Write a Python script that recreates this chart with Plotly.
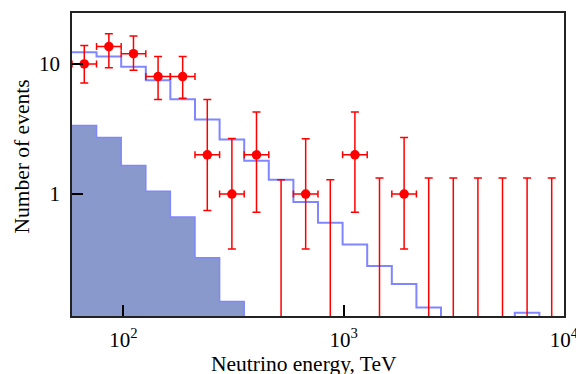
import numpy as np
import plotly.graph_objects as go

# Bin edges (TeV), 20 log-spaced bins
bin_edges = [58.5, 75.6, 97.8, 126.5, 163.5, 211.5, 273.5, 353.7, 457.3, 591.4,
             764.7, 989.0, 1279.0, 1654.0, 2139.0, 2766.0, 3576.0, 4625.0, 5980.0,
             7733.0, 10000.0]

# Expected total (signal + background) per bin; tiny values are below the axis
model_counts = [12.3, 11.4, 9.5, 7.5, 5.35, 3.74, 2.63, 1.80, 1.29, 0.868,
                0.60, 0.409, 0.280, 0.203, 0.134, 0.001, 0.001, 0.001, 0.122, 0.001]

# Background expectation per bin (first 7 bins, rest negligible)
bg_counts = [3.36, 2.72, 1.66, 1.05, 0.666, 0.323, 0.149]

# Observed events: bin index, value, upper and lower error bounds
obs_bin = [0, 1, 2, 3, 4, 5, 6, 7, 9, 11, 13]
obs_val = [10, 13.6, 12.0, 8.0, 8.0, 2.0, 1.0, 2.0, 1.0, 2.0, 1.0]
obs_hi = [13.9, 17.1, 16.4, 11.4, 11.4, 5.32, 2.67, 4.28, 2.66, 4.28, 2.72]
obs_lo = [7.15, 9.37, 8.93, 5.32, 5.45, 0.746, 0.377, 0.724, 0.377, 0.724, 0.377]

# Upper limits for empty bins
ul_bin = [8, 10, 12, 14, 15, 16, 17, 18, 19]
ul_val = [1.29, 1.29, 1.33, 1.33, 1.33, 1.33, 1.33, 1.33, 1.33]

x_tick_vals = [100, 1000, 10000]
x_tick_text = ["10<sup>2</sup>", "10<sup>3</sup>", "10<sup>4</sup>"]
y_tick_vals = [1, 10]
y_tick_text = ["1", "10"]

edges = np.array(bin_edges)
centers = np.sqrt(edges[:-1] * edges[1:])

FONT = "Liberation Serif"
RED = "#ff0000"
BLUE_LINE = "#7f86ff"
BLUE_FILL = "#8a99cc"
FLOOR = 0.001

fig = go.Figure()

# Background filled histogram
nb = len(bg_counts)
bx = list(edges[:nb + 1]) + [edges[nb], edges[0]]
by = list(bg_counts) + [FLOOR, FLOOR, FLOOR]
fig.add_trace(go.Scatter(
    x=bx, y=by, mode="lines", line=dict(shape="hv", color=BLUE_LINE, width=1.5),
    fill="toself", fillcolor=BLUE_FILL, hoverinfo="skip", showlegend=False))

# Model step histogram
mx = list(edges)
my = list(model_counts) + [model_counts[-1]]
fig.add_trace(go.Scatter(
    x=mx, y=my, mode="lines", line=dict(shape="hv", color=BLUE_LINE, width=2),
    showlegend=False))

# Upper limits
ulx = [centers[i] for i in ul_bin]
fig.add_trace(go.Scatter(
    x=ulx, y=ul_val, mode="markers", marker=dict(size=1, color=RED, opacity=0),
    error_y=dict(type="data", symmetric=False, array=[0] * len(ul_val),
                 arrayminus=[v - FLOOR for v in ul_val], color=RED, thickness=1.5, width=4),
    showlegend=False))

# Observed points
ox = [centers[i] for i in obs_bin]
ex_plus = [edges[i + 1] - centers[i] for i in obs_bin]
ex_minus = [centers[i] - edges[i] for i in obs_bin]
fig.add_trace(go.Scatter(
    x=ox, y=obs_val, mode="markers", marker=dict(size=9.5, color=RED),
    error_y=dict(type="data", symmetric=False,
                 array=[h - v for h, v in zip(obs_hi, obs_val)],
                 arrayminus=[v - l for v, l in zip(obs_val, obs_lo)],
                 color=RED, thickness=1.5, width=4),
    error_x=dict(type="data", symmetric=False, array=ex_plus, arrayminus=ex_minus,
                 color=RED, thickness=1.5, width=3.5),
    showlegend=False))

fig.update_layout(
    width=576, height=374,
    margin=dict(l=72, r=12, t=13, b=58, autoexpand=False),
    paper_bgcolor="white", plot_bgcolor="white",
    font=dict(family=FONT, size=21, color="black"),
    showlegend=False,
)
fig.update_xaxes(
    type="log", range=[np.log10(58.5), 4.0], automargin=False,
    tickvals=x_tick_vals, ticktext=x_tick_text, ticklabeloverflow="allow",
    ticks="inside", ticklen=11, tickwidth=1.5, tickcolor="black",
    showline=True, linecolor="#222", linewidth=1.5, mirror=True,
    showgrid=False, zeroline=False, ticklabelstandoff=4,
    tickfont=dict(family=FONT, size=21),
)
fig.update_yaxes(
    type="log", range=[-0.938, 1.392], automargin=False,
    tickvals=y_tick_vals, ticktext=y_tick_text,
    ticks="inside", ticklen=11, tickwidth=1.5, tickcolor="black",
    showline=True, linecolor="#222", linewidth=1.5, mirror=True,
    showgrid=False, zeroline=False, ticklabelstandoff=6,
    tickfont=dict(family=FONT, size=21),
)

fig.add_annotation(text="Neutrino energy, TeV", xref="paper", yref="paper",
                   x=(304 - 72) / 492, y=-(364 - 316) / 303, xanchor="center", yanchor="middle",
                   showarrow=False, font=dict(family=FONT, size=21.5))
fig.add_annotation(text="Number of events", xref="paper", yref="paper",
                   x=-(72 - 21) / 492, y=(316 - 156.5) / 303, xanchor="center", yanchor="middle",
                   textangle=-90, showarrow=False, font=dict(family=FONT, size=21.5))

fig.write_html("out.html")
